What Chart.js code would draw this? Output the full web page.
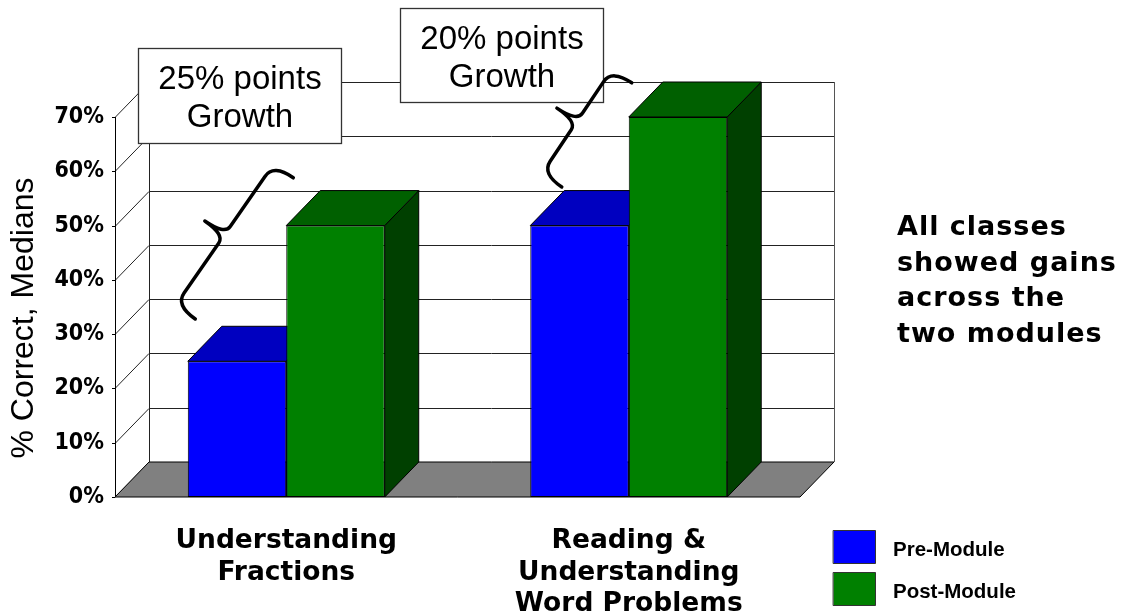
<!DOCTYPE html>
<html>
<head>
<meta charset="utf-8">
<script src="https://cdn.jsdelivr.net/npm/chart.js@4.4.0/dist/chart.umd.min.js"></script>
<style>
html,body{margin:0;padding:0;background:#ffffff;}
#wrap{width:1136px;height:613px;position:relative;}
</style>
</head>
<body>
<div id="wrap"><canvas id="c" width="1136" height="613"></canvas></div>
<script>
// ---- data ----
const categories = [["Understanding", "Fractions"], ["Reading &", "Understanding", "Word Problems"]];
const seriesNames = ["Pre-Module", "Post-Module"];
const preModule = [25, 50];
const postModule = [50, 70];
const yTicks = [0, 10, 20, 30, 40, 50, 60, 70];
const yTitle = "% Correct, Medians";
const growthTexts = [["25% points", "Growth"], ["20% points", "Growth"]];
const sideNote = ["All classes", "showed gains", "across the", "two modules"];

// ---- styles / layout ----
const DX = 34, DY = 35;
const faceColors = [
  {front: "#0000FF", top: "#0000C0", side: "#000080"},
  {front: "#008000", top: "#006000", side: "#004000"}
];
// annotation boxes: x offset from category centre (px), top (px), size
const boxes = [
  {cat: 0, dx: -148, top: 48, w: 203, h: 95},
  {cat: 1, dx: -229, top: 8, w: 203, h: 94}
];
// braces: [x offset px from category centre, y value]
const braces = [
  {cat: 0, a: [-91, 32.8], b: [7, 58.8]},
  {cat: 1, a: [-67, 57.1], b: [3, 76.3]}
];

function poly(ctx, pts, fill, stroke, lw) {
  ctx.beginPath();
  ctx.moveTo(pts[0][0], pts[0][1]);
  for (let i = 1; i < pts.length; i++) ctx.lineTo(pts[i][0], pts[i][1]);
  ctx.closePath();
  if (fill) { ctx.fillStyle = fill; ctx.fill(); }
  if (stroke) { ctx.strokeStyle = stroke; ctx.lineWidth = lw || 1; ctx.stroke(); }
}
function seg(ctx, x1, y1, x2, y2) {
  ctx.beginPath(); ctx.moveTo(x1, y1); ctx.lineTo(x2, y2); ctx.stroke();
}

const threeD = {
  id: "threeD",
  beforeDatasetsDraw(chart) {
    const ctx = chart.ctx, a = chart.chartArea, y = chart.scales.y;
    const L = a.left, R = a.right;
    const B = y.getPixelForValue(yTicks[0]);
    const T = y.getPixelForValue(yTicks[yTicks.length - 1]);
    ctx.save();
    ctx.lineWidth = 1;
    yTicks.forEach(v => {
      const p = Math.round(y.getPixelForValue(v)) + 0.5;
      ctx.strokeStyle = "#222";
      seg(ctx, L + DX, p - DY, R + DX, p - DY);
      seg(ctx, L, p, L + DX, p - DY);
      ctx.strokeStyle = "#000";
      seg(ctx, L - 3, p, L, p);
    });
    ctx.strokeStyle = "#222";
    seg(ctx, L + DX + 0.5, T - DY, L + DX + 0.5, B - DY);
    ctx.strokeStyle = "#555";
    seg(ctx, R + DX + 0.5, T - DY, R + DX + 0.5, B - DY);
    ctx.strokeStyle = "#000";
    seg(ctx, L + 0.5, T, L + 0.5, B);
    poly(ctx, [[L, B], [R, B], [R + DX, B - DY], [L + DX, B - DY]], "#808080", "#000", 1);
    // y-axis title
    ctx.save();
    ctx.translate(24, (T + B) / 2 + 11);
    ctx.rotate(-Math.PI / 2);
    ctx.fillStyle = "#000";
    ctx.font = "32px 'Liberation Sans', Arial, sans-serif";
    ctx.textAlign = "center"; ctx.textBaseline = "middle";
    ctx.fillText(yTitle, 0, 0);
    ctx.restore();
    // 3D side and top faces of every bar (front faces drawn by Chart.js afterwards)
    chart.data.datasets.forEach((ds, di) => {
      const col = faceColors[di];
      chart.getDatasetMeta(di).data.forEach(el => {
        const p = el.getProps(["x", "y", "base", "width"], true);
        const l = p.x - p.width / 2, r = p.x + p.width / 2, t = p.y, b = p.base;
        poly(ctx, [[r, t], [r + DX, t - DY], [r + DX, b - DY], [r, b]], col.side, "#000", 1);
        poly(ctx, [[l, t], [r, t], [r + DX, t - DY], [l + DX, t - DY]], col.top, "#000", 1);
      });
    });
    ctx.restore();
  },
  afterDatasetsDraw(chart) {
    const ctx = chart.ctx, a = chart.chartArea, x = chart.scales.x, y = chart.scales.y;
    ctx.save();
    // growth boxes
    boxes.forEach((bx, i) => {
      const left = Math.round(x.getPixelForValue(bx.cat) + bx.dx) + 0.5;
      ctx.fillStyle = "#fff";
      ctx.fillRect(left, bx.top + 0.5, bx.w, bx.h);
      ctx.strokeStyle = "#333"; ctx.lineWidth = 1.3;
      ctx.strokeRect(left, bx.top + 0.5, bx.w, bx.h);
      ctx.fillStyle = "#000";
      ctx.font = "33px 'Liberation Sans', Arial, sans-serif";
      ctx.textAlign = "center"; ctx.textBaseline = "alphabetic";
      const cx = left + bx.w / 2;
      ctx.fillText(growthTexts[i][0], cx, bx.top + 41);
      ctx.fillText(growthTexts[i][1], cx, bx.top + 79);
    });
    // braces
    ctx.strokeStyle = "#000"; ctx.lineWidth = 3.5; ctx.lineCap = "round"; ctx.lineJoin = "round";
    braces.forEach(br => {
      const cx = x.getPixelForValue(br.cat);
      const A = [cx + br.a[0], y.getPixelForValue(br.a[1])];
      const Bp = [cx + br.b[0], y.getPixelForValue(br.b[1])];
      const ddx = Bp[0] - A[0], ddy = Bp[1] - A[1];
      const len = Math.hypot(ddx, ddy);
      const ax = ddx / len, ay = ddy / len;
      const nx = ay, ny = -ax;
      const P = (u, v) => [A[0] + u * ax + v * nx, A[1] + u * ay + v * ny];
      const w = 24, r = 15, rm = 10, m = len / 2;
      ctx.beginPath();
      let p = P(0, 0); ctx.moveTo(p[0], p[1]);
      let c = P(0, w); p = P(r, w); ctx.quadraticCurveTo(c[0], c[1], p[0], p[1]);
      p = P(m - rm, w); ctx.lineTo(p[0], p[1]);
      c = P(m, w); p = P(m, 2 * w); ctx.quadraticCurveTo(c[0], c[1], p[0], p[1]);
      c = P(m, w); p = P(m + rm, w); ctx.quadraticCurveTo(c[0], c[1], p[0], p[1]);
      p = P(len - r, w); ctx.lineTo(p[0], p[1]);
      c = P(len, w); p = P(len, 0); ctx.quadraticCurveTo(c[0], c[1], p[0], p[1]);
      ctx.stroke();
    });
    // side note
    ctx.fillStyle = "#000";
    ctx.font = "bold 27px 'DejaVu Sans', Verdana, sans-serif";
    ctx.textAlign = "left"; ctx.textBaseline = "alphabetic";
    try { ctx.letterSpacing = "1px"; } catch (e) {}
    sideNote.forEach((t, i) => ctx.fillText(t, a.right + 97, 235 + i * 35.7));
    try { ctx.letterSpacing = "0px"; } catch (e) {}
    // legend
    ctx.font = "bold 20.5px 'Liberation Sans', Arial, sans-serif";
    chart.data.datasets.forEach((ds, i) => {
      const top = 530 + i * 42;
      ctx.fillStyle = ds.backgroundColor;
      ctx.fillRect(833.5, top + 0.5, 42, 33);
      ctx.strokeStyle = "#333"; ctx.lineWidth = 1;
      ctx.strokeRect(833.5, top + 0.5, 42, 33);
      ctx.fillStyle = "#000";
      ctx.fillText(ds.label, 893, top + 26);
    });
    ctx.restore();
  }
};

new Chart(document.getElementById("c"), {
  type: "bar",
  data: {
    labels: categories,
    datasets: [
      {label: seriesNames[0], data: preModule, backgroundColor: faceColors[0].front,
       borderColor: "#000", borderWidth: 1, borderSkipped: false},
      {label: seriesNames[1], data: postModule, backgroundColor: faceColors[1].front,
       borderColor: "#000", borderWidth: 1, borderSkipped: false}
    ]
  },
  options: {
    responsive: false,
    animation: false,
    layout: {padding: {top: 117, right: 336, left: 0, bottom: 0}},
    datasets: {bar: {categoryPercentage: 0.575, barPercentage: 1}},
    plugins: {legend: {display: false}, tooltip: {enabled: false}},
    scales: {
      x: {
        grid: {display: false, drawTicks: false},
        border: {display: false},
        ticks: {color: "#000", autoSkip: false, maxRotation: 0, padding: 28,
          font: {family: "'DejaVu Sans', Verdana, sans-serif", size: 26.5, weight: "bold", lineHeight: 1.2}},
        afterFit(s) { s.height = 116; }
      },
      y: {
        min: yTicks[0], max: yTicks[yTicks.length - 1],
        afterBuildTicks(s) { s.ticks = yTicks.map(v => ({value: v})); },
        grid: {display: false, drawTicks: false},
        border: {display: false},
        ticks: {color: "#000", padding: 11, callback: v => v + "%",
          font: {family: "'DejaVu Sans Condensed', 'DejaVu Sans', sans-serif", size: 23, weight: "bold"}},
        title: {display: false, text: yTitle},
        afterFit(s) { s.width = 115; }
      }
    }
  },
  plugins: [threeD]
});
</script>
</body>
</html>
